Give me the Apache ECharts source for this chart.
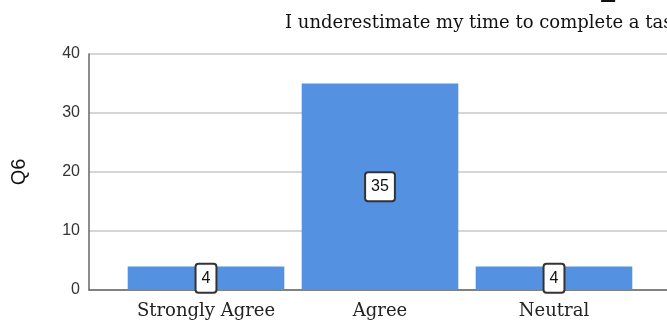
<!DOCTYPE html>
<html>
<head>
<meta charset="utf-8">
<script src="https://cdn.jsdelivr.net/npm/echarts@6/dist/echarts.min.js"></script>
<style>
  html, body { margin: 0; padding: 0; background: #fff; }
  #chart { width: 667px; height: 329px; }
</style>
</head>
<body>
<div id="chart"></div>
<script>
const categories = ['Strongly Agree', 'Agree', 'Neutral']
const counts = [4, 35, 4]
const yTicks = [0, 10, 20, 30, 40]
const titleText = 'I underestimate my time to complete a task'
const axisName = 'Q6'

const chart = echarts.init(document.getElementById('chart'))

chart.setOption({
  backgroundColor: '#fff',
  animation: false,
  title: [
    {
      text: titleText,
      left: 280,
      top: 9,
      textStyle: { fontFamily: 'DejaVu Serif', fontSize: 18, fontWeight: 'normal', color: '#111' },
    },
    {
      // bottom of a larger heading that is cut off by the top edge
      text: '2',
      left: 594,
      top: -26,
      textStyle: { fontFamily: 'DejaVu Serif', fontSize: 30, fontWeight: 'normal', color: '#111' },
    },
  ],
  grid: [
    // frame grid: y axis, gridlines, baseline
    { left: 89, right: 0, top: 54, bottom: 39 },
    // bar grid: offset so the first band starts after a gap
    { left: 119, right: 26, top: 54, bottom: 39 },
  ],
  xAxis: [
    {
      gridIndex: 0,
      type: 'value',
      min: 0,
      max: 1,
      axisLine: { show: true, lineStyle: { color: '#666', width: 1.5 } },
      axisTick: { show: false },
      axisLabel: { show: false },
      splitLine: { show: false },
    },
    {
      gridIndex: 1,
      type: 'category',
      data: categories,
      axisLine: { show: false },
      axisTick: { show: false },
      axisLabel: {
        interval: 0,
        margin: 12,
        fontFamily: 'DejaVu Serif',
        fontSize: 18,
        color: '#222',
      },
    },
  ],
  yAxis: [
    {
      gridIndex: 0,
      type: 'value',
      min: yTicks[0],
      max: yTicks[yTicks.length - 1],
      interval: 10,
      name: axisName,
      nameLocation: 'middle',
      nameGap: 60,
      nameTextStyle: { fontFamily: 'Liberation Sans', fontSize: 20, color: '#111' },
      axisLine: { show: true, lineStyle: { color: '#666', width: 1.5 } },
      axisTick: { show: false },
      axisLabel: { margin: 9, fontFamily: 'Liberation Sans', fontSize: 16, color: '#333' },
      splitLine: { show: true, lineStyle: { color: '#c8c8c8', width: 1.5 } },
    },
    {
      gridIndex: 1,
      type: 'value',
      min: yTicks[0],
      max: yTicks[yTicks.length - 1],
      show: false,
    },
  ],
  series: [
    {
      type: 'bar',
      xAxisIndex: 1,
      yAxisIndex: 1,
      data: counts,
      barCategoryGap: '10%',
      itemStyle: { color: '#5591e1' },
      label: {
        show: true,
        position: 'inside',
        fontFamily: 'Liberation Sans',
        fontSize: 16,
        color: '#111',
        backgroundColor: '#fff',
        borderColor: '#333',
        borderWidth: 2,
        borderRadius: 2,
        padding: [6, 5, 5, 5],
      },
    },
  ],
})
</script>
</body>
</html>
